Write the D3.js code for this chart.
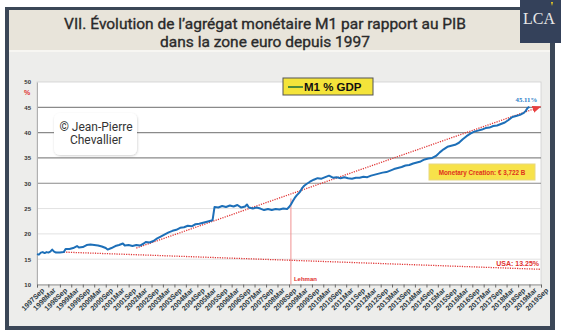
<!DOCTYPE html>
<html><head><meta charset="utf-8">
<script src="https://cdn.jsdelivr.net/npm/d3@7"></script>
<style>body{margin:0;background:#fff}svg{display:block}</style>
</head><body>
<svg id="c" width="561" height="336"></svg>
<script>
const titleLines = ["VII. Évolution de l’agrégat monétaire M1 par rapport au PIB", "dans la zone euro depuis 1997"];
const obsDates = ["1997-09","1997-10","1997-11","1997-12","1998-01","1998-02","1998-03","1998-04","1998-05","1998-06","1998-07","1998-09","1998-11","1998-12",
"1999-02","1999-04","1999-06","1999-07","1999-09","1999-11","2000-01","2000-03","2000-05","2000-07","2000-09","2000-10","2000-12",
"2001-02","2001-04","2001-06","2001-07","2001-09","2001-11","2002-01","2002-03","2002-05","2002-06","2002-08","2002-10","2002-12",
"2003-02","2003-04","2003-06","2003-08","2003-10","2003-12","2004-02","2004-04","2004-06","2004-08","2004-10","2004-12",
"2005-02","2005-04","2005-05","2005-06","2005-08","2005-10","2005-12","2006-02","2006-04","2006-06","2006-08","2006-10","2006-11","2006-12",
"2007-02","2007-04","2007-06","2007-08","2007-10","2007-12","2008-02","2008-04","2008-06","2008-08","2008-09","2008-10","2008-11","2008-12",
"2009-01","2009-02","2009-03","2009-04","2009-05","2009-06","2009-08","2009-10","2009-12","2010-02","2010-04","2010-06","2010-08","2010-10","2010-12",
"2011-02","2011-04","2011-06","2011-08","2011-10","2011-12","2012-02","2012-04","2012-06","2012-08","2012-10","2012-12",
"2013-02","2013-04","2013-06","2013-08","2013-10","2013-12","2014-02","2014-04","2014-06","2014-08","2014-10","2014-12",
"2015-02","2015-04","2015-06","2015-08","2015-10","2015-12","2016-02","2016-04","2016-06","2016-08","2016-10","2016-12",
"2017-02","2017-04","2017-06","2017-08","2017-10","2017-12","2018-02","2018-04","2018-06","2018-08","2018-10","2018-12","2019-01","2019-02","2019-03"];
const m1Gdp = [16.0,15.9,16.3,16.4,16.2,16.4,16.3,16.5,16.9,16.5,16.3,16.3,16.4,17.0,
17.0,17.2,17.6,17.3,17.4,17.8,17.9,17.8,17.7,17.5,17.2,16.9,17.2,
17.6,17.8,18.1,17.7,17.8,17.6,17.8,17.7,18.1,18.4,18.3,18.6,19.1,
19.5,19.9,20.3,20.6,20.8,21.2,21.3,21.6,21.5,21.9,22.0,22.2,
22.4,22.6,22.7,25.3,25.2,25.5,25.3,25.6,25.4,25.7,25.2,25.4,25.8,25.2,
25.0,25.2,25.0,24.7,24.9,24.7,24.9,24.8,25.0,24.9,25.3,25.8,26.5,27.1,
27.6,28.0,28.4,29.1,29.5,29.8,30.3,30.7,31.0,30.9,31.2,31.5,31.1,31.2,31.0,
31.2,31.0,30.9,31.1,31.1,31.3,31.2,31.5,31.7,31.9,32.1,32.2,
32.5,32.8,33.0,33.2,33.5,33.6,33.9,34.1,34.3,34.7,34.9,35.0,
35.4,36.1,36.7,37.2,37.4,37.6,38.0,38.7,39.3,39.8,40.2,40.4,
40.6,40.9,41.0,41.3,41.4,41.7,42.0,42.5,43.1,43.3,43.5,43.9,44.3,44.9,45.1];
const trendDates = ["2002-01","2019-07"];
const trendValues = [17.2,44.9];
const usaDates = ["1998-11","2019-09"];
const usaValues = [16.4,13.0];
const lehmanDate = "2008-10";
const lehmanTop = 27;
const yTicks = [10,15,20,25,30,35,40,45,50];
const years = [1997,1998,1999,2000,2001,2002,2003,2004,2005,2006,2007,2008,2009,2010,2011,2012,2013,2014,2015,2016,2017,2018,2019];
const halfs = ["Mar","Sep"];
const xTickLabels = [];
const xTickDates = [];
years.forEach(y=>halfs.forEach(h=>{
  if(y===1997&&h==="Mar") return;
  xTickLabels.push(y+h);
  xTickDates.push(y+"-"+(h==="Mar"?"03":"09"));
}));
const legendLabel = "M1 % GDP";
const endLabel = "45.11%";
const creationLabel = "Monetary Creation: € 3,722 B";
const usaLabel = "USA: 13.25%";
const lehmanLabel = "Lehman";
const copyLines = ["© Jean-Pierre","Chevallier"];

const parse = d3.timeParse("%Y-%m");
const svg = d3.select("#c");

// frame
svg.append("rect").attr("x",5).attr("y",7).attr("width",550).attr("height",323).attr("fill","#3b4757");
svg.append("rect").attr("x",9).attr("y",10).attr("width",541).attr("height",316).attr("fill","#ededeb");
svg.append("rect").attr("x",9).attr("y",10).attr("width",541).attr("height",40).attr("fill","#e8e4da");
svg.append("rect").attr("x",9).attr("y",50).attr("width",541).attr("height",2).attr("fill","#f7f6f2");
// LCA logo
svg.append("rect").attr("x",520).attr("y",0).attr("width",41).attr("height",43).attr("fill","#34415a");
svg.append("text").attr("x",539).attr("y",24).attr("text-anchor","middle").attr("fill","#e8e8e8")
  .style("font-family","'Liberation Serif','DejaVu Serif',serif").style("font-size","16px").text("LCA");
svg.append("path").attr("d","M551,2 l2,0 l-1,4 z").attr("fill","#f0d020");

// title
titleLines.forEach((t,i)=>{
  svg.append("text").attr("x",265).attr("y",29+i*18).attr("text-anchor","middle").attr("fill","#2a2a2a")
   .attr("stroke","#2a2a2a").attr("stroke-width",0.35)
   .style("font-family","Roboto,'Noto Sans',sans-serif").style("font-size","15.5px").text(t);
});

const x = d3.scaleTime().domain([parse("1997-09"),parse("2019-09")]).range([37,541]);
const y = d3.scaleLinear().domain([10,50]).range([284.5,82]);

svg.append("rect").attr("x",37).attr("y",82).attr("width",504).attr("height",202.5).attr("fill","#fff").attr("stroke","#cfcfcf").attr("stroke-width",0.8);

// gridlines
yTicks.filter(v=>v>10&&v<50).forEach(v=>{
  svg.append("line").attr("x1",37).attr("x2",541).attr("y1",y(v)).attr("y2",y(v))
    .attr("stroke", v>=30 ? "#8a8a8a" : "#e2e2e2").attr("stroke-width", v>=30?1.2:1);
});

// y labels
const yAxis = d3.axisLeft(y).tickValues(yTicks).tickSize(0).tickPadding(6);
const gy = svg.append("g").attr("transform","translate(37,0)").call(yAxis);
gy.select(".domain").attr("stroke","#b0b0b0");
gy.selectAll("text").attr("fill","#333").style("font-family","'Liberation Sans',Arial,sans-serif").style("font-size","6px").style("font-weight","bold");
svg.append("text").attr("x",27).attr("y",95).attr("text-anchor","middle").attr("fill","#e03030")
  .style("font-family","'Liberation Sans',Arial,sans-serif").style("font-size","7px").style("font-weight","bold").text("%");

// x axis
const xAxis = d3.axisBottom(x).tickValues(xTickDates.map(parse)).tickFormat((d,i)=>xTickLabels[i]).tickSize(3).tickPadding(1);
const gx = svg.append("g").attr("transform","translate(0,284.5)").call(xAxis);
gx.select(".domain").attr("stroke","#9a9a9a");
gx.selectAll(".tick line").attr("stroke","#666");
gx.selectAll("text").attr("fill","#2c3a44").attr("text-anchor","end")
  .attr("transform","translate(2,0) rotate(-45)").attr("dy","0.6em").attr("dx","-0.1em")
  .style("font-family","'Liberation Sans',Arial,sans-serif").style("font-size","7.1px").style("font-weight","bold");

// Lehman
svg.append("line").attr("x1",x(parse(lehmanDate))).attr("x2",x(parse(lehmanDate))).attr("y1",y(lehmanTop)).attr("y2",y(10))
  .attr("stroke","#f09090").attr("stroke-width",1);
svg.append("text").attr("x",x(parse(lehmanDate))+3).attr("y",281).attr("fill","#e03030")
  .style("font-family","'Liberation Sans',Arial,sans-serif").style("font-size","6px").style("font-weight","bold").text(lehmanLabel);

// red dotted lines
const defs = svg.append("defs");
defs.append("marker").attr("id","arr").attr("viewBox","0 0 10 10").attr("refX",5).attr("refY",5)
  .attr("markerWidth",7).attr("markerHeight",7).attr("orient","auto")
  .append("path").attr("d","M0,1 L10,5 L0,9 z").attr("fill","#e84040");
const line = d3.line().x(d=>x(parse(d[0]))).y(d=>y(d[1]));
svg.append("path").attr("d",line(d3.zip(usaDates,usaValues))).attr("fill","none").attr("stroke","#e03535").attr("stroke-width",1.3).attr("stroke-dasharray","1.2,1.2");
svg.append("path").attr("d",line(d3.zip(trendDates,trendValues))).attr("fill","none").attr("stroke","#e03535").attr("stroke-width",1.3).attr("stroke-dasharray","1.2,1.2").attr("marker-end","url(#arr)");

// main series
svg.append("path").attr("d",line(d3.zip(obsDates,m1Gdp))).attr("fill","none").attr("stroke","#1d6fb8").attr("stroke-width",2).attr("stroke-linejoin","round");

// labels
const last = obsDates.length-1;
svg.append("text").attr("x",x(parse(obsDates[last]))-3).attr("y",y(m1Gdp[last])-5).attr("text-anchor","middle").attr("fill","#2a80c8")
  .style("font-family","'Liberation Serif','DejaVu Serif',serif").style("font-size","6.8px").style("font-weight","bold").text(endLabel);
svg.append("text").attr("x",539).attr("y",266).attr("text-anchor","end").attr("fill","#e03030")
  .style("font-family","'Liberation Sans',Arial,sans-serif").style("font-size","7px").style("font-weight","bold").text(usaLabel);

// monetary creation box
svg.append("rect").attr("x",429).attr("y",164).attr("width",106).attr("height",16).attr("fill","#f7e24a").attr("stroke","#e8d880").attr("stroke-width",1);
svg.append("text").attr("x",482).attr("y",174.5).attr("text-anchor","middle").attr("fill","#e0301c")
  .style("font-family","'Liberation Sans',Arial,sans-serif").style("font-size","6.3px").style("font-weight","bold").text(creationLabel);

// legend
svg.append("rect").attr("x",283).attr("y",78).attr("width",90).attr("height",17).attr("fill","#f4e43a").attr("stroke","#555").attr("stroke-width",1);
svg.append("line").attr("x1",288).attr("x2",303).attr("y1",87).attr("y2",87).attr("stroke","#4f8a3a").attr("stroke-width",2);
svg.append("text").attr("x",304).attr("y",91).attr("fill","#111")
  .style("font-family","'Liberation Sans',Arial,sans-serif").style("font-size","11.5px").style("font-weight","bold").text(legendLabel);

// copyright box
defs.append("filter").attr("id","sh").append("feDropShadow").attr("dx",0.5).attr("dy",1).attr("stdDeviation",1.2).attr("flood-color","#000").attr("flood-opacity",0.18);
svg.append("rect").attr("x",54).attr("y",113).attr("width",83).attr("height",42).attr("rx",6).attr("fill","#fff").attr("filter","url(#sh)");
copyLines.forEach((t,i)=>{
  svg.append("text").attr("x",96).attr("y",131+i*13).attr("text-anchor","middle").attr("fill","#333")
   .style("font-family","Roboto,'Noto Sans',sans-serif").style("font-size","12px").text(t);
});
</script>
</body></html>
